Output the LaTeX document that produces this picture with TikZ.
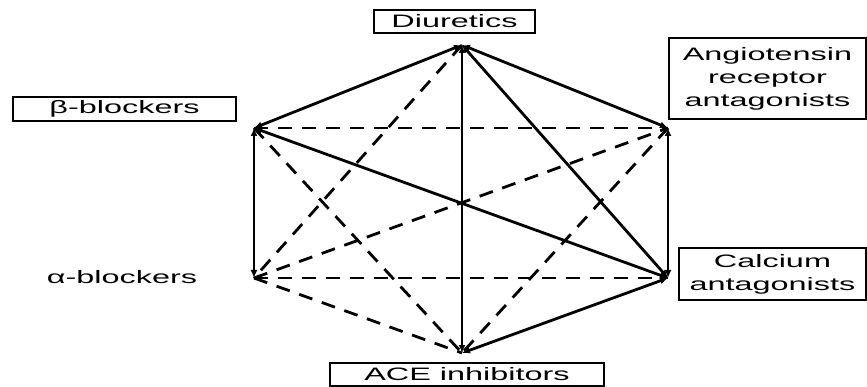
\documentclass[tikz,border=0pt]{standalone}
\usepackage{fontspec}
\setmainfont{Liberation Sans}[FakeStretch=1.8]
\usetikzlibrary{arrows.meta}
\tikzset{
  lbl/.style={draw, line width=2.2pt, inner sep=0pt, align=center,
    font=\fontsize{18}{23}\selectfont},
  plain/.style={inner sep=0pt, font=\fontsize{18}{23}\selectfont},
  solidlink/.style={line width=2.8pt, {Latex[length=8pt,width=7pt]}-{Latex[length=8pt,width=7pt]}},
  dashlink/.style={line width=2.8pt, dash pattern=on 14pt off 10pt},
}
\begin{document}
\begin{tikzpicture}[x=1pt,y=-1pt]
\useasboundingbox (0,0) rectangle (867,387);
% vertices
\coordinate (vD) at (462,45);
\coordinate (vB) at (254,128);
\coordinate (vR) at (668,128);
\coordinate (vC) at (668,278);
\coordinate (vE) at (462,353);
\coordinate (vA) at (254,278);
% labels
\node[lbl, minimum width=161pt, minimum height=23pt] (diu) at (454.5,21.5) {Diuretics};
\node[lbl, minimum width=197pt, minimum height=81pt] (ara) at (767.5,78.5) {Angiotensin\\receptor\\antagonists};
\node[lbl, minimum width=223pt, minimum height=24pt] (beta) at (124.5,109) {β-blockers};
\node[plain] (alpha) at (122,277) {α-blockers};
\node[lbl, minimum width=187pt, minimum height=52pt] (cal) at (772.5,274) {Calcium\\antagonists};
\node[lbl, minimum width=274pt, minimum height=23pt] (ace) at (467,374.5) {ACE inhibitors};
% dashed links
\draw[dashlink] (vB) -- (vR);
\draw[dashlink] (vB) -- (vE);
\draw[dashlink] (vD) -- (vA);
\draw[dashlink] (vA) -- (vR);
\draw[dashlink] (vA) -- (vC);
\draw[dashlink] (vA) -- (vE);
\draw[dashlink] (vR) -- (vE);
% solid links
\draw[solidlink] (vD) -- (vB);
\draw[solidlink] (vD) -- (vR);
\draw[solidlink] (vD) -- (vE);
\draw[solidlink] (vD) -- (vC);
\draw[solidlink] (vB) -- (vA);
\draw[solidlink] (vB) -- (vC);
\draw[solidlink] (vR) -- (vC);
\draw[solidlink] (vC) -- (vE);
\end{tikzpicture}
\end{document}
